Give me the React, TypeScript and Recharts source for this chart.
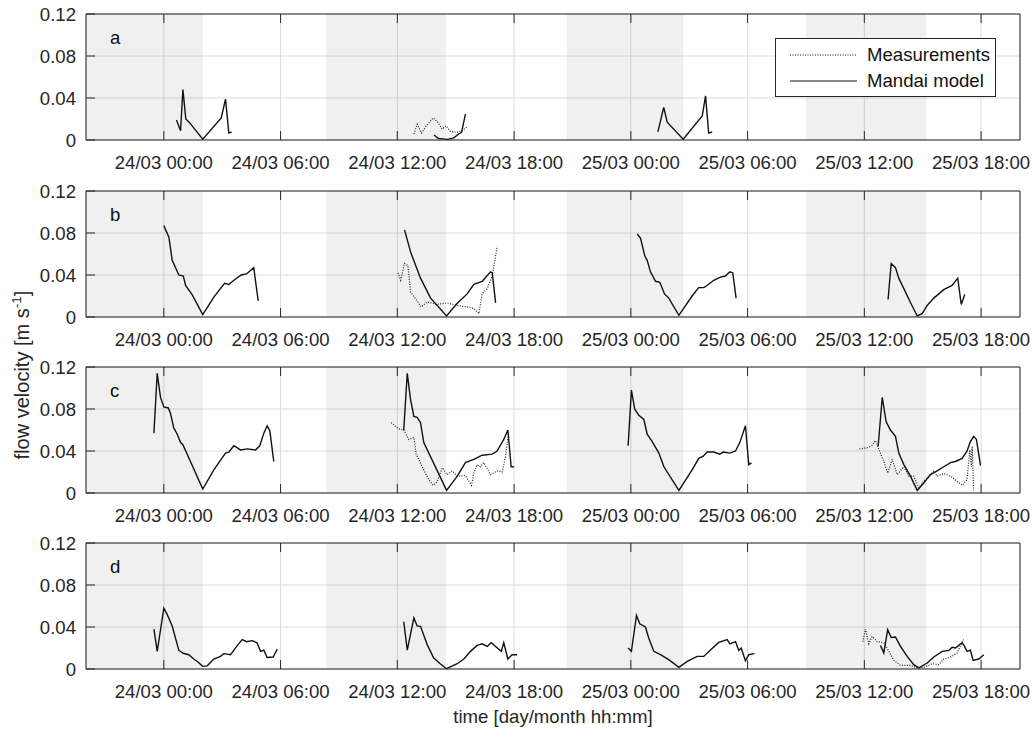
import { LineChart, Line, XAxis, YAxis, CartesianGrid, ReferenceArea, Legend } from 'recharts'

type Seg = [number, number][]

// hours counted from 24/03 00:00
const tickHours = [0, 6, 12, 18, 24, 30, 36, 42]
const tickLabels = [
  '24/03 00:00', '24/03 06:00', '24/03 12:00', '24/03 18:00',
  '25/03 00:00', '25/03 06:00', '25/03 12:00', '25/03 18:00',
]
const yTicks = [0, 0.04, 0.08, 0.12]
const tideBands: [number, number][] = [[-4, 2], [8.35, 14.5], [20.7, 26.7], [33, 39.2]]
const seriesOrder = ['Measurements', 'Mandai model']

const modelA: Seg[] = [
  [[0.65, 0.019], [0.86, 0.0088], [0.98, 0.048], [1.13, 0.02], [1.3, 0.017], [2.0, 0.0007], [2.95, 0.021], [3.17, 0.039], [3.34, 0.0066], [3.48, 0.0078]],
  [[13.88, 0.0047], [14.1, 0.0015], [14.56, 0.0006], [14.9, 0.002], [15.16, 0.0057], [15.3, 0.0073], [15.5, 0.0246]],
  [[25.39, 0.0078], [25.69, 0.031], [25.87, 0.017], [26.69, 0.0007], [27.67, 0.023], [27.84, 0.042], [28.0, 0.0066], [28.18, 0.0078]],
]
const measA: Seg[] = [
  [[12.85, 0.0057], [13.02, 0.015], [13.24, 0.0066], [13.48, 0.013], [13.84, 0.021], [14.08, 0.017], [14.3, 0.0104], [14.5, 0.0135], [14.73, 0.0082], [15.02, 0.0073], [15.33, 0.0088], [15.59, 0.0126]],
]

const modelB: Seg[] = [
  [[0, 0.087], [0.26, 0.076], [0.43, 0.054], [0.77, 0.04], [1.0, 0.039], [1.12, 0.03], [1.46, 0.021], [2.0, 0.0023], [2.57, 0.019], [3.12, 0.032], [3.34, 0.031], [3.6, 0.035], [3.98, 0.04], [4.25, 0.041], [4.62, 0.047], [4.85, 0.0154]],
  [[12.37, 0.083], [12.68, 0.062], [13.19, 0.037], [13.71, 0.018], [14.53, 0.001], [15.08, 0.013], [15.59, 0.022], [15.93, 0.031], [16.36, 0.034], [16.79, 0.043], [16.88, 0.042], [17.05, 0.0134]],
  [[24.33, 0.079], [24.5, 0.075], [24.72, 0.058], [24.84, 0.054], [25.01, 0.043], [25.27, 0.034], [25.49, 0.033], [25.73, 0.022], [25.95, 0.018], [26.47, 0.0016], [27.15, 0.02], [27.49, 0.028], [27.75, 0.028], [27.92, 0.03], [28.26, 0.035], [28.61, 0.038], [28.86, 0.039], [29.09, 0.043], [29.24, 0.042], [29.41, 0.018]],
  [[37.22, 0.0167], [37.38, 0.051], [37.6, 0.047], [37.77, 0.037], [38.03, 0.027], [38.37, 0.0138], [38.72, 0.001], [38.97, 0.0032], [39.23, 0.011], [39.57, 0.018], [40.08, 0.026], [40.51, 0.03], [40.8, 0.037], [40.98, 0.012], [41.16, 0.0215]],
]
const measB: Seg[] = [
  [[12.03, 0.042], [12.17, 0.035], [12.37, 0.051], [12.54, 0.049], [12.68, 0.024], [13.23, 0.0096], [13.54, 0.0144], [14.05, 0.012], [14.56, 0.0134], [15.08, 0.011], [15.59, 0.0096], [15.93, 0.008], [16.19, 0.0032], [16.36, 0.022], [16.62, 0.027], [16.88, 0.039], [17.13, 0.067]],
]

const modelC: Seg[] = [
  [[-0.51, 0.057], [-0.34, 0.114], [-0.17, 0.091], [0, 0.082], [0.23, 0.081], [0.34, 0.076], [0.51, 0.062], [0.69, 0.056], [0.86, 0.048], [0.98, 0.046], [2.0, 0.0038], [2.57, 0.022], [3.17, 0.038], [3.34, 0.039], [3.6, 0.045], [3.94, 0.041], [4.29, 0.042], [4.71, 0.041], [4.93, 0.045], [5.14, 0.057], [5.31, 0.064], [5.45, 0.059], [5.65, 0.03]],
  [[12.33, 0.06], [12.51, 0.114], [12.68, 0.089], [12.85, 0.073], [13.02, 0.072], [13.19, 0.067], [13.36, 0.048], [14.53, 0.0025], [15.08, 0.016], [15.5, 0.029], [15.93, 0.032], [16.36, 0.036], [16.88, 0.037], [17.13, 0.04], [17.47, 0.051], [17.68, 0.06], [17.85, 0.025], [17.99, 0.025]],
  [[23.86, 0.045], [24.03, 0.098], [24.2, 0.08], [24.41, 0.074], [24.67, 0.07], [24.84, 0.056], [25.1, 0.049], [25.44, 0.038], [25.7, 0.025], [26.47, 0.0025], [27.15, 0.022], [27.49, 0.033], [27.72, 0.035], [27.92, 0.039], [28.26, 0.039], [28.57, 0.037], [28.75, 0.039], [29.09, 0.038], [29.38, 0.04], [29.6, 0.048], [29.89, 0.064], [30.06, 0.027], [30.2, 0.0287]],
  [[36.71, 0.0445], [36.92, 0.091], [37.12, 0.068], [37.34, 0.06], [37.6, 0.054], [37.77, 0.038], [38.03, 0.027], [38.37, 0.016], [38.72, 0.0025], [39.05, 0.0095], [39.4, 0.0175], [39.74, 0.021], [40.08, 0.025], [40.43, 0.029], [40.68, 0.03], [41.03, 0.033], [41.28, 0.04], [41.45, 0.049], [41.62, 0.054], [41.76, 0.051], [41.97, 0.026]],
]
const measC: Seg[] = [
  [[11.68, 0.067], [12.08, 0.061], [12.33, 0.06], [12.59, 0.051], [12.85, 0.053], [12.97, 0.037], [13.36, 0.022], [13.62, 0.0127], [13.84, 0.0073], [14.05, 0.011], [14.31, 0.024], [14.56, 0.0175], [14.82, 0.021], [15.08, 0.016], [15.5, 0.0165], [15.81, 0.0073], [15.93, 0.019], [16.1, 0.027], [16.27, 0.025], [16.44, 0.029], [16.79, 0.0175], [17.13, 0.021], [17.39, 0.02], [17.56, 0.035], [17.68, 0.053]],
  [[35.75, 0.042], [36.14, 0.043], [36.4, 0.045], [36.57, 0.05], [36.71, 0.043], [37.0, 0.03], [37.2, 0.019], [37.43, 0.032], [37.69, 0.0175], [38.03, 0.025], [38.28, 0.016], [38.54, 0.016], [38.8, 0.0048], [39.05, 0.011], [39.4, 0.0175], [39.57, 0.021], [39.74, 0.016], [40.08, 0.0185], [40.43, 0.016], [40.77, 0.011], [41.03, 0.0073], [41.28, 0.0127], [41.42, 0.041], [41.5, 0.025], [41.54, 0.0445], [41.62, 0.0025]],
]

const modelD: Seg[] = [
  [[-0.51, 0.038], [-0.34, 0.0168], [0, 0.058], [0.17, 0.052], [0.43, 0.041], [0.77, 0.0177], [1.0, 0.015], [1.28, 0.0136], [1.54, 0.0095], [1.72, 0.0072], [2.0, 0.0025], [2.23, 0.003], [2.57, 0.0095], [2.91, 0.012], [3.08, 0.0146], [3.43, 0.0136], [3.6, 0.018], [3.8, 0.023], [4.03, 0.028], [4.25, 0.026], [4.54, 0.027], [4.79, 0.025], [4.97, 0.0168], [5.14, 0.018], [5.31, 0.011], [5.62, 0.0114], [5.83, 0.019]],
  [[12.33, 0.045], [12.51, 0.018], [12.85, 0.0486], [13.02, 0.041], [13.19, 0.0406], [13.54, 0.023], [13.87, 0.0105], [14.22, 0.0048], [14.53, 0.0003], [15.08, 0.005], [15.42, 0.0095], [15.76, 0.0168], [16.1, 0.0225], [16.36, 0.024], [16.62, 0.0215], [16.82, 0.025], [17.05, 0.0215], [17.34, 0.0168], [17.47, 0.025], [17.68, 0.0095], [17.9, 0.0136], [18.15, 0.0136]],
  [[23.86, 0.02], [24.03, 0.0168], [24.29, 0.051], [24.46, 0.043], [24.75, 0.04], [24.92, 0.0295], [25.18, 0.0168], [25.52, 0.0136], [25.95, 0.0089], [26.47, 0.0015], [26.9, 0.0072], [27.41, 0.012], [27.75, 0.012], [28.09, 0.018], [28.52, 0.0253], [28.95, 0.028], [29.09, 0.024], [29.38, 0.026], [29.55, 0.0177], [29.67, 0.02], [29.89, 0.0079], [30.06, 0.0136], [30.35, 0.0146]],
  [[36.83, 0.0225], [37.0, 0.0152], [37.2, 0.0374], [37.38, 0.03], [37.6, 0.0305], [37.86, 0.0215], [38.2, 0.012], [38.54, 0.0041], [38.8, 0.001], [39.23, 0.0057], [39.57, 0.0114], [40.0, 0.0168], [40.34, 0.0177], [40.51, 0.0206], [40.68, 0.02], [40.85, 0.0225], [41.03, 0.025], [41.15, 0.0215], [41.28, 0.0168], [41.45, 0.018], [41.59, 0.0082], [41.88, 0.0095], [42.14, 0.0136]],
]
const measD: Seg[] = [
  [[35.92, 0.026], [36.06, 0.038], [36.23, 0.024], [36.4, 0.031], [36.66, 0.026], [37.0, 0.025], [37.26, 0.0168], [37.52, 0.0082], [37.86, 0.0034], [38.37, 0.0034], [38.72, 0.001], [39.14, 0.002], [39.49, 0.005], [39.83, 0.0041], [40.08, 0.0095], [40.43, 0.0114], [40.77, 0.0152], [41.03, 0.026], [41.11, 0.028]],
]

// segments joined with a null row so the line breaks between them
const toRows = (segs: Seg[]) =>
  segs.flatMap((s, i) => [
    ...(i ? [{ t: s[0][0], v: null as number | null }] : []),
    ...s.map(([t, v]) => ({ t, v: v as number | null })),
  ])

const INK = '#262626'
const FS = 18.6
const FONT = '"Liberation Sans", Arial, Helvetica, sans-serif'

const LegendBox = ({ payload }: any) => {
  const items = [...(payload || [])].sort(
    (a: any, b: any) => seriesOrder.indexOf(a.value) - seriesOrder.indexOf(b.value)
  )
  return (
    <div
      style={{
        width: 221, height: 59, boxSizing: 'border-box', border: `1px solid ${INK}`,
        background: '#fff', paddingTop: 3, paddingLeft: 14, fontSize: FS, color: '#111',
      }}
    >
      {items.map((p: any) => (
        <div key={p.value} style={{ display: 'flex', alignItems: 'center', height: 26 }}>
          <svg width={67} height={4} style={{ marginRight: 10 }}>
            <line x1={0} y1={2} x2={67} y2={2} stroke="#111" strokeWidth={1}
              strokeDasharray={p.value === 'Measurements' ? '1 1.5' : undefined} />
          </svg>
          <span style={{ lineHeight: 1 }}>{p.value}</span>
        </div>
      ))}
    </div>
  )
}

interface PanelProps {
  letter: string
  top: number
  height: number
  model: Seg[]
  meas: Seg[]
  legend?: boolean
  xLabel?: boolean
}

function Panel({ letter, top, height, model, meas, legend, xLabel }: PanelProps) {
  const bottomH = height - 14 - 126
  return (
    <div style={{ position: 'absolute', left: 0, top }}>
      <LineChart width={1035} height={height} margin={{ top: 13, right: 14, bottom: 0, left: 0 }}>
        {tideBands.map(([a, b]) => (
          <ReferenceArea key={a} xAxisId="b" yAxisId="l" x1={a} x2={b} fill="#000" fillOpacity={0.058} stroke="none" ifOverflow="hidden" />
        ))}
        <CartesianGrid xAxisId="b" yAxisId="l" stroke="#dcdcdc" />
        <XAxis
          xAxisId="t" orientation="top" type="number" dataKey="t" domain={[-4, 44]} ticks={tickHours}
          height={1} tickSize={-9} tickFormatter={() => ''} stroke={INK} allowDataOverflow interval={0}
        />
        <XAxis
          xAxisId="b" type="number" dataKey="t" domain={[-4, 44]} ticks={tickHours} interval={0}
          height={bottomH} tickSize={-9} tickMargin={25} stroke={INK} allowDataOverflow
          tick={{ fill: INK, fontSize: FS }}
          tickFormatter={(h: number) => tickLabels[tickHours.indexOf(h)] ?? ''}
          label={xLabel ? { value: 'time [day/month hh:mm]', position: 'insideBottom', offset: 8, fill: INK, fontSize: FS } : undefined}
        />
        <YAxis
          yAxisId="l" width={86} domain={[0, 0.12]} ticks={yTicks} interval={0} tickSize={-9} tickMargin={19}
          stroke={INK} tick={{ fill: INK, fontSize: FS }} tickFormatter={(v: number) => String(v)}
        />
        <YAxis
          yAxisId="r" orientation="right" width={1} domain={[0, 0.12]} ticks={yTicks} interval={0}
          tickSize={-9} stroke={INK} tickFormatter={() => ''}
        />
        {legend && (
          <Legend layout="vertical" align="center" verticalAlign="middle"
            itemSorter={(item: any) => seriesOrder.indexOf(item.value)}
            wrapperStyle={{ left: 775, top: 38, width: 221, height: 59 }} content={<LegendBox />} />
        )}
        <Line xAxisId="b" yAxisId="l" name="Measurements" data={toRows(meas)} dataKey="v" type="linear"
          stroke="#222" strokeWidth={1.2} strokeDasharray="1 1.5" dot={false} activeDot={false} isAnimationActive={false} />
        <Line xAxisId="b" yAxisId="l" name="Mandai model" data={toRows(model)} dataKey="v" type="linear"
          stroke="#111" strokeWidth={1.4} dot={false} activeDot={false} isAnimationActive={false} />
      </LineChart>
      <div style={{ position: 'absolute', left: 110, top: 29, fontSize: FS, lineHeight: 1, color: '#111' }}>{letter}</div>
    </div>
  )
}

export default function App() {
  return (
    <div style={{ position: 'absolute', left: 0, top: 0, width: 1035, height: 731, background: '#fff', fontFamily: FONT, overflow: 'hidden' }}>
      <Panel letter="a" top={0} height={176} model={modelA} meas={measA} legend />
      <Panel letter="b" top={177} height={176} model={modelB} meas={measB} />
      <Panel letter="c" top={353} height={176} model={modelC} meas={measC} />
      <Panel letter="d" top={529} height={202} model={modelD} meas={measD} xLabel />
      <div
        style={{
          position: 'absolute', left: 22, top: 375, transform: 'translate(-50%, -50%) rotate(-90deg)',
          whiteSpace: 'nowrap', fontSize: 20, lineHeight: 1, color: INK,
        }}
      >
        flow velocity [m s<sup style={{ fontSize: '0.68em', lineHeight: 0 }}>-1</sup>]
      </div>
    </div>
  )
}
